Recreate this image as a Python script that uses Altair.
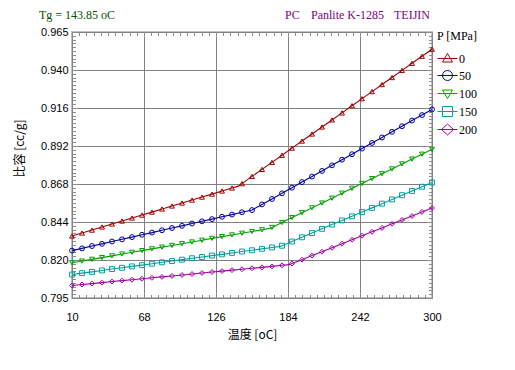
import altair as alt
import pandas as pd

# ---------------- data ----------------
pressures = ["0", "50", "100", "150", "200"]

temps = [10, 18.06, 26.11, 34.17, 42.22, 50.28, 58.33, 66.39, 74.44, 82.5,
         90.56, 98.61, 106.67, 114.72, 122.78, 130.83, 138.89, 146.94, 155,
         163.06, 171.11, 179.17, 187.22, 195.28, 203.33, 211.39, 219.44, 227.5,
         235.56, 243.61, 251.67, 259.72, 267.78, 275.83, 283.89, 291.94, 300]

vol_0 = [0.8346, 0.8365, 0.8384, 0.8404, 0.8423, 0.8442, 0.8461, 0.8480, 0.8499,
         0.8519, 0.8538, 0.8557, 0.8576, 0.8595, 0.8614, 0.8634, 0.8653, 0.8681,
         0.8727, 0.8772, 0.8817, 0.8862, 0.8908, 0.8953, 0.8998, 0.9043, 0.9088,
         0.9133, 0.9179, 0.9224, 0.9269, 0.9314, 0.9359, 0.9405, 0.9450, 0.9495, 0.9540]
vol_50 = [0.8253, 0.8267, 0.8282, 0.8296, 0.8311, 0.8325, 0.8339, 0.8354, 0.8368,
          0.8383, 0.8397, 0.8411, 0.8426, 0.8440, 0.8454, 0.8469, 0.8483, 0.8498,
          0.8512, 0.8548, 0.8583, 0.8619, 0.8655, 0.8691, 0.8726, 0.8762, 0.8798,
          0.8834, 0.8869, 0.8905, 0.8941, 0.8976, 0.9012, 0.9048, 0.9084, 0.9119, 0.9155]
vol_100 = [0.8175, 0.8186, 0.8197, 0.8208, 0.8219, 0.8231, 0.8242, 0.8253, 0.8264,
           0.8275, 0.8286, 0.8297, 0.8308, 0.8319, 0.8331, 0.8342, 0.8353, 0.8364,
           0.8375, 0.8386, 0.8401, 0.8432, 0.8464, 0.8495, 0.8526, 0.8557, 0.8588,
           0.8620, 0.8651, 0.8682, 0.8713, 0.8744, 0.8775, 0.8807, 0.8838, 0.8869, 0.8900]
vol_150 = [0.8100, 0.8109, 0.8117, 0.8126, 0.8135, 0.8143, 0.8152, 0.8160, 0.8169,
           0.8178, 0.8186, 0.8195, 0.8204, 0.8212, 0.8221, 0.8229, 0.8238, 0.8247,
           0.8255, 0.8264, 0.8273, 0.8284, 0.8311, 0.8338, 0.8365, 0.8392, 0.8419,
           0.8446, 0.8472, 0.8499, 0.8526, 0.8553, 0.8580, 0.8607, 0.8634, 0.8661, 0.8688]
vol_200 = [0.8030, 0.8036, 0.8042, 0.8048, 0.8055, 0.8061, 0.8067, 0.8073, 0.8079,
           0.8085, 0.8091, 0.8097, 0.8103, 0.8110, 0.8116, 0.8122, 0.8128, 0.8134,
           0.8140, 0.8146, 0.8152, 0.8159, 0.8170, 0.8195, 0.8221, 0.8246, 0.8271,
           0.8297, 0.8322, 0.8348, 0.8373, 0.8398, 0.8424, 0.8449, 0.8474, 0.8500, 0.8525]

# transition (kink) points of each curve
kink_temps = [144, 155, 169.5, 178, 185]
kink_vols = [0.8665, 0.8512, 0.8395, 0.8280, 0.8163]

x_tick_values = [10, 68, 126, 184, 242, 300]
y_tick_labels = ["0.795", "0.820", "0.844", "0.868", "0.892", "0.916", "0.940", "0.965"]

header_texts = ["Tg = 143.85 oC", "PC", "Panlite K-1285", "TEIJIN"]

colors = ["#a00000", "#0000a0", "#00a000", "#00a0a0", "#a000a0"]
plot_shapes = ["triangle-up", "circle", "triangle-down", "square", "diamond"]
legend_shapes = [
    "M-1,0L1,0M0,-0.5L0.5,0.35L-0.5,0.35Z",
    "M-1,0L1,0M-0.5,0A0.5,0.5 0 1,0 0.5,0A0.5,0.5 0 1,0 -0.5,0",
    "M-1,0L1,0M0,0.5L0.5,-0.35L-0.5,-0.35Z",
    "M-1,0L1,0M-0.5,-0.5L0.5,-0.5L0.5,0.5L-0.5,0.5Z",
    "M-1,0L1,0M0,-0.55L0.6,0L0,0.55L-0.6,0Z",
]

# ---------------- tables ----------------
series = dict(zip(pressures, [vol_0, vol_50, vol_100, vol_150, vol_200]))
rows = [{"T": t, "V": v, "P": p} for p in pressures for t, v in zip(temps, series[p])]
pts = pd.DataFrame(rows)
line_rows = rows + [{"T": t, "V": v, "P": p} for p, t, v in zip(pressures, kink_temps, kink_vols)]
lines = pd.DataFrame(line_rows)

y_lo, y_hi = 0.795, 0.965
y_step = (y_hi - y_lo) / 7
y_major = [y_lo + i * y_step for i in range(8)]
y_minor = [y_lo + i * y_step / 10 for i in range(71)]
x_minor = [10 + i * 5.8 for i in range(51)]

xs = alt.Scale(domain=[10, 300], nice=False, zero=False)
ys = alt.Scale(domain=[y_lo, y_hi], nice=False, zero=False)

TICK = "#8c8c8c"


def tick_axis(values, orient, size):
    return alt.Axis(values=values, orient=orient, labels=False, grid=False,
                    domain=False, ticks=True, tickSize=alt.ExprRef(expr=f"-{size}"),
                    tickColor=TICK, tickWidth=1)


label_expr = "[" + ",".join(f"'{s}'" for s in y_tick_labels) + f"][round((datum.value - {y_lo}) / {y_step})]"

x_main = alt.Axis(values=x_tick_values, orient="bottom", format="d",
                  labelFont="Liberation Sans", labelFontSize=11, labelColor="black",
                  labelPadding=13, labelFlush=False, labelOverlap=False,
                  ticks=False, domain=False, grid=True, gridColor="#808080", gridWidth=1,
                  title="温度 [oC]", titleFont="Noto Sans CJK TC", titleFontSize=12,
                  titleFontWeight="normal", titleColor="black", titleX=180, titleY=36,
                  titleAlign="center", titleBaseline="middle")
y_main = alt.Axis(values=y_major, orient="left", labelExpr=label_expr,
                  labelFont="Liberation Sans", labelFontSize=11, labelColor="black",
                  labelPadding=4, labelFlush=False, labelOverlap=False,
                  ticks=False, domain=False, grid=True, gridColor="#808080", gridWidth=1,
                  title="比容 [cc/g]", titleFont="Noto Sans CJK TC", titleFontSize=12,
                  titleFontWeight="normal", titleColor="black", titleX=-53, titleY=116,
                  titleAngle=270, titleAlign="center", titleBaseline="middle")

legend_args = dict(title="P [MPa]", orient="none", legendX=365, legendY=-1,
                   direction="vertical", titleFont="Liberation Serif", titleFontSize=12,
                   titleFontWeight="normal", titleColor="black", labelFont="Liberation Serif",
                   labelFontSize=12, labelColor="black", symbolSize=400, symbolStrokeWidth=1,
                   rowPadding=0, padding=0, titlePadding=5, labelOffset=1)

line_layer = alt.Chart(lines).mark_line(strokeWidth=1.1).encode(
    x=alt.X("T:Q", scale=xs, axis=x_main),
    y=alt.Y("V:Q", scale=ys, axis=y_main),
    color=alt.Color("P:N", scale=alt.Scale(domain=pressures, range=colors), legend=None),
    order="T:Q",
)

point_layer = alt.Chart(pts).mark_point(filled=False, size=24, strokeWidth=1, opacity=1).encode(
    x=alt.X("T:Q", scale=xs, axis=tick_axis(x_tick_values, "bottom", 6), title=None),
    y=alt.Y("V:Q", scale=ys, axis=tick_axis(y_major, "left", 6), title=None),
    color=alt.Color("P:N", scale=alt.Scale(domain=pressures, range=colors), legend=None),
    shape=alt.Shape("P:N", scale=alt.Scale(domain=pressures, range=plot_shapes), legend=None),
)

legend_layer = alt.Chart(pts).mark_point(filled=False, opacity=0).encode(
    x=alt.X("T:Q", scale=xs, axis=tick_axis(x_minor, "bottom", 3.5), title=None),
    y=alt.Y("V:Q", scale=ys, axis=tick_axis(y_minor, "left", 3.5), title=None),
    color=alt.Color("P:N", scale=alt.Scale(domain=pressures, range=colors),
                    legend=alt.Legend(**legend_args)),
    shape=alt.Shape("P:N", scale=alt.Scale(domain=pressures, range=legend_shapes),
                    legend=alt.Legend(**legend_args)),
)

top_major = alt.Chart(pts).mark_point(opacity=0).encode(
    x=alt.X("T:Q", scale=xs, axis=tick_axis(x_tick_values, "top", 6), title=None),
    y=alt.Y("V:Q", scale=ys, axis=tick_axis(y_major, "right", 6), title=None),
)
top_minor = alt.Chart(pts).mark_point(opacity=0).encode(
    x=alt.X("T:Q", scale=xs, axis=tick_axis(x_minor, "top", 3.5), title=None),
    y=alt.Y("V:Q", scale=ys, axis=tick_axis(y_minor, "right", 3.5), title=None),
)

hdr = pd.DataFrame({"t": header_texts})


def header(i, x, color):
    return alt.Chart(hdr).transform_filter(f"datum.t == '{header_texts[i]}'").mark_text(
        font="Liberation Serif", fontSize=12, color=color, align="left", baseline="alphabetic"
    ).encode(text="t:N", x=alt.value(x), y=alt.value(-13))


chart = alt.layer(
    line_layer, point_layer, legend_layer, top_major, top_minor,
    header(0, -33, "#005000"), header(1, 213, "#800080"),
    header(2, 239, "#800080"), header(3, 322, "#800080"),
).resolve_scale(
    color="independent", shape="independent"
).resolve_axis(
    x="independent", y="independent"
).properties(
    width=360, height=266,
    autosize=alt.AutoSizeParams(type="none"),
    padding={"left": 64, "top": 24, "right": 75, "bottom": 64},
    background="white",
).configure_view(stroke="#c0c0c0", strokeWidth=2)

chart.save("out.html", embed_options={"renderer": "svg", "actions": False})
